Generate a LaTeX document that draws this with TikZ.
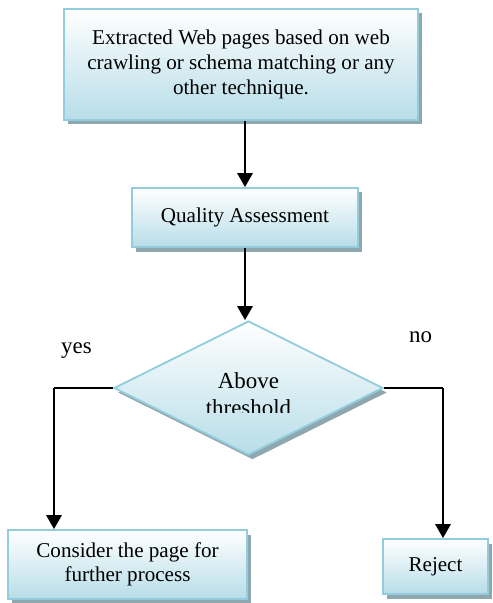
\documentclass[tikz,border=0pt]{standalone}
\usepackage{fontspec}
\setmainfont{Liberation Serif}
\usetikzlibrary{arrows.meta,positioning,shapes.geometric,shadows}

\definecolor{boxline}{HTML}{93CDDD}
\definecolor{boxfill}{HTML}{B7DDE8}
\definecolor{shadowgray}{HTML}{8FA7AE}

\begin{document}
\begin{tikzpicture}[
    x=0.025cm, y=-0.025cm,
    >={Triangle[width=11pt, length=10pt]},
    font=\fontsize{15}{17.5}\selectfont,
    procbox/.style={draw=boxline, line width=1.3pt, top color=white, bottom color=boxfill,
        align=center, inner sep=0pt,
        drop shadow={shadow xshift=2.8pt, shadow yshift=-3.2pt, fill=shadowgray, opacity=1}},
    decision/.style={diamond, draw=boxline, line width=1.3pt, top color=white, bottom color=boxfill,
        inner sep=0pt, aspect=2,
        drop shadow={shadow xshift=2.8pt, shadow yshift=-3.2pt, fill=shadowgray, opacity=1}},
    biglabel/.style={font=\fontsize{16.3}{19}\selectfont, anchor=base},
    arr/.style={->, line width=1.4pt},
    branch/.style={line width=1pt}
]
    \useasboundingbox (0,0) rectangle (492,603);

    % --- 1. boxes ---
    \node[procbox, minimum width=354*0.025cm, minimum height=111*0.025cm] (extract) at (241,64.5)
        {Extracted Web pages based on web\\crawling or schema matching or any\\other technique.};
    \node[procbox, minimum width=226*0.025cm, minimum height=59*0.025cm] (quality) at (245,217.5)
        {Quality Assessment};

    % decision diamond (text is cut off at the bottom)
    \node[decision, minimum width=269*0.025cm, minimum height=134*0.025cm] (check) at (248.5,388) {};
    \begin{scope}
        \clip (150,330) rectangle (350,412.8);
        \node[biglabel] (above) at (248.5,388.3) {Above};
        \node[biglabel] (thresh) at (248.5,415) {threshold};
    \end{scope}

    \node[procbox, minimum width=239*0.025cm, minimum height=69*0.025cm] (consider) at (127.5,564.5)
        {Consider the page for\\further process};
    \node[procbox, minimum width=105*0.025cm, minimum height=55*0.025cm] (reject) at (435.5,566.5)
        {Reject};

    % --- 2. branch labels ---
    \node[biglabel] (yes) at (76.5,353) {yes};
    \node[biglabel] (no) at (420.5,342.7) {no};

    % --- 3. connectors ---
    \coordinate (yesturn) at (54,388);
    \coordinate (noturn) at (443,388);

    \draw[arr] (quality.north |- extract.south) -- (quality.north);
    \draw[arr] (quality.south) -- (quality.south |- check.north);

    \draw[branch] (check.west) -- (yesturn);
    \draw[arr] (yesturn) -- (yesturn |- consider.north);

    \draw[branch] (check.east) -- (noturn);
    \draw[arr] (noturn) -- (noturn |- reject.north);

\end{tikzpicture}
\end{document}
